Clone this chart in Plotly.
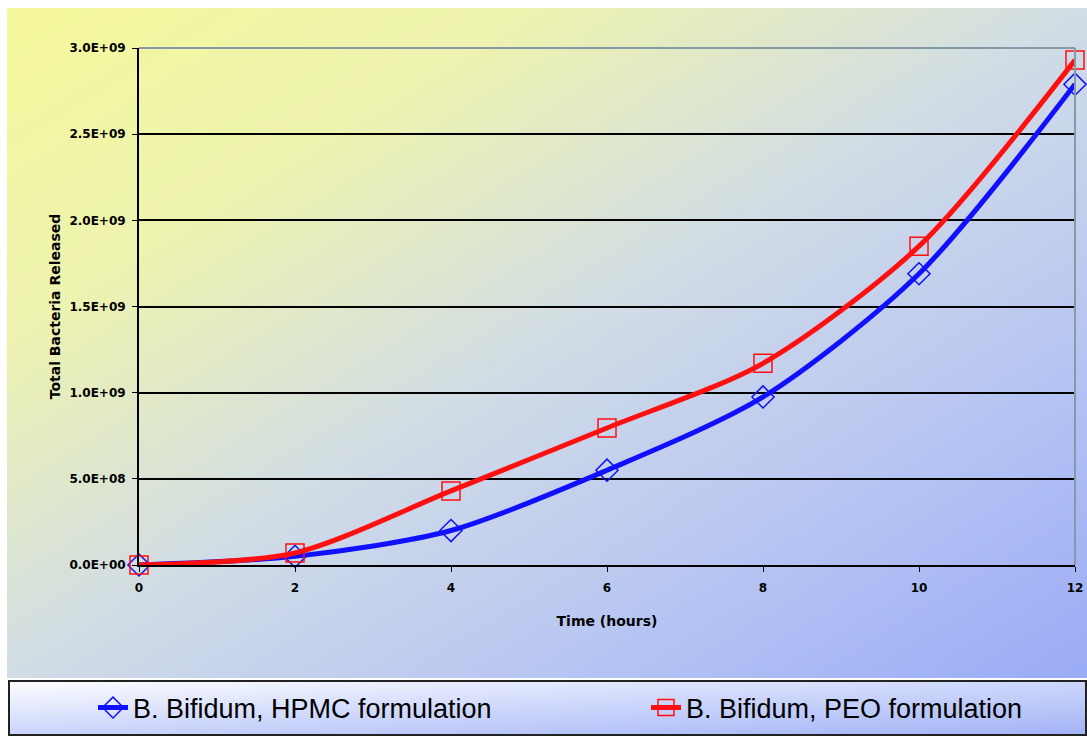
import base64, struct, zlib
import numpy as np
import plotly.graph_objects as go

# ---- data ----
time_hours = [0, 2, 4, 6, 8, 10, 12]
hpmc = [0.0, 0.05e9, 0.20e9, 0.55e9, 0.975e9, 1.69e9, 2.79e9]
peo = [0.0, 0.07e9, 0.43e9, 0.795e9, 1.17e9, 1.85e9, 2.93e9]
y_tickvals = [0, 0.5e9, 1.0e9, 1.5e9, 2.0e9, 2.5e9, 3.0e9]
y_ticktext = ["0.0E+00", "5.0E+08", "1.0E+09", "1.5E+09", "2.0E+09", "2.5E+09", "3.0E+09"]
x_tickvals = [0, 2, 4, 6, 8, 10, 12]
name_hpmc = "B. Bifidum, HPMC formulation"
name_peo = "B. Bifidum, PEO formulation"

# ---- gradient png helper ----
def png_uri(w, h, stops):
    u = np.linspace(0, 1, w)[None, :]
    v = np.linspace(0, 1, h)[:, None]
    t = 0.5 * (u + v)
    ts = np.array([s[0] for s in stops])
    img = np.zeros((h, w, 3), dtype=np.uint8)
    for c in range(3):
        cs = np.array([s[1][c] for s in stops], dtype=float)
        img[:, :, c] = np.clip(np.interp(t, ts, cs), 0, 255).astype(np.uint8)
    raw = b"".join(b"\x00" + img[r].tobytes() for r in range(h))
    def chunk(tag, data):
        c = tag + data
        return struct.pack(">I", len(data)) + c + struct.pack(">I", zlib.crc32(c) & 0xffffffff)
    png = b"\x89PNG\r\n\x1a\n" + chunk(b"IHDR", struct.pack(">IIBBBBB", w, h, 8, 2, 0, 0, 0)) \
        + chunk(b"IDAT", zlib.compress(raw, 9)) + chunk(b"IEND", b"")
    return "data:image/png;base64," + base64.b64encode(png).decode()

chart_bg = png_uri(240, 150, [(0.0, (246, 249, 156)), (0.25, (238, 243, 178)), (0.5, (210, 221, 230)),
                              (0.75, (184, 198, 243)), (1.0, (155, 172, 247))])
legend_bg = png_uri(240, 20, [(0.0, (253, 253, 255)), (0.5, (205, 215, 252)), (1.0, (165, 181, 247))])

W, H = 1087, 738
L, R, T, B = 139, 12, 48, 173
PW, PH = W - L - R, H - T - B

def px_x(px):
    return (px - L) / PW

def px_y(py):
    return (H - B - py) / PH

fig = go.Figure()
fig.add_trace(go.Scatter(
    x=time_hours, y=hpmc, name=name_hpmc, mode="lines+markers", legend="legend",
    line=dict(color="#1010ff", width=5, shape="spline", smoothing=0.8),
    marker=dict(symbol="diamond-open", size=17, color="#1010ff", line=dict(width=1.5, color="#1010ff")),
    cliponaxis=False,
))
fig.add_trace(go.Scatter(
    x=time_hours, y=peo, name=name_peo, mode="lines+markers", legend="legend2",
    line=dict(color="#ff1010", width=5, shape="spline", smoothing=0.8),
    marker=dict(symbol="square-open", size=18, color="#ff1010", line=dict(width=1.5, color="#ff1010")),
    cliponaxis=False,
))

tickfont = dict(family="DejaVu Sans", size=12, color="black", weight="bold")
titlefont = dict(family="DejaVu Sans", size=14, color="black", weight="bold")
legfont = dict(family="Liberation Sans, Arial", size=27, color="black")
leg_common = dict(orientation="h", xref="container", yref="container", y=1 - 708 / H,
                  xanchor="left", yanchor="middle", bgcolor="rgba(0,0,0,0)", font=legfont)
fig.update_layout(
    width=W, height=H,
    margin=dict(l=L, r=R, t=T, b=B, autoexpand=False),
    paper_bgcolor="white", plot_bgcolor="rgba(0,0,0,0)",
    showlegend=True,
    legend=dict(x=93 / W, **leg_common),
    legend2=dict(x=646 / W, **leg_common),
    xaxis=dict(
        range=[0, 12], tickvals=x_tickvals, ticks="outside", ticklen=5, tickcolor="black",
        showline=True, linecolor="black", linewidth=2, showgrid=False, zeroline=False,
        tickfont=tickfont, ticklabelstandoff=6,
        title=dict(text="Time (hours)", font=titlefont, standoff=22),
    ),
    yaxis=dict(
        range=[0, 3.0e9], tickvals=y_tickvals, ticktext=y_ticktext, ticks="outside", ticklen=5,
        tickcolor="black", showline=True, linecolor="black", linewidth=2,
        showgrid=True, gridcolor="black", gridwidth=1.5, zeroline=False,
        tickfont=tickfont, ticklabelstandoff=4,
        title=dict(text="Total Bacteria Released", font=titlefont, standoff=5),
    ),
    images=[
        dict(source=chart_bg, xref="paper", yref="paper", x=px_x(7), y=px_y(8),
             sizex=(1087 - 7) / PW, sizey=(678 - 8) / PH, sizing="stretch", layer="below",
             xanchor="left", yanchor="top"),
        dict(source=legend_bg, xref="paper", yref="paper", x=px_x(8), y=px_y(681),
             sizex=(1087 - 8) / PW, sizey=(735 - 681) / PH, sizing="stretch", layer="below",
             xanchor="left", yanchor="top"),
    ],
    shapes=[
        dict(type="line", xref="paper", yref="paper", x0=0, x1=1, y0=1, y1=1,
             line=dict(color="#8599a6", width=2), layer="above"),
        dict(type="line", xref="paper", yref="paper", x0=1, x1=1, y0=0, y1=1,
             line=dict(color="#8599a6", width=2), layer="above"),
        dict(type="rect", xref="paper", yref="paper", x0=px_x(9), x1=px_x(1086),
             y0=px_y(735), y1=px_y(681), line=dict(color="#222222", width=2), layer="above"),
    ],
)

fig.write_html("out.html")
